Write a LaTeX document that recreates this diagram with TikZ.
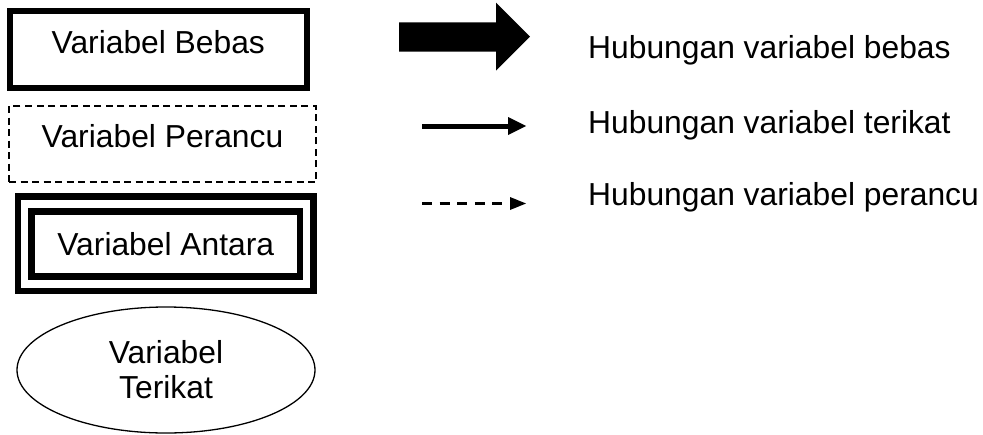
\documentclass[tikz,border=0pt]{standalone}
\usepackage{fontspec}
\setmainfont{Liberation Sans}
\usetikzlibrary{shapes.geometric,arrows.meta}
\begin{document}
\begin{tikzpicture}[x=1pt,y=-1pt,
  lbl/.style={font=\fontsize{31.8}{35}\selectfont, inner sep=0pt},
  boxbase/.style={lbl, draw, rectangle, text height=22pt},
  bebasbox/.style={boxbase, line width=6pt, minimum width=297.3pt, minimum height=76.7pt, text depth=15.4pt},
  perancubox/.style={boxbase, line width=1.3pt, dash pattern=on 7pt off 4.5pt, minimum width=307pt, minimum height=76pt, text depth=16pt},
  antaraouter/.style={draw, rectangle, line width=6.3pt, minimum width=295.3pt, minimum height=94.3pt, inner sep=0pt},
  antarainner/.style={boxbase, line width=6.6pt, minimum width=268.5pt, minimum height=65.4pt, text depth=0pt},
  terikatbox/.style={lbl, draw, ellipse, line width=1.3pt, minimum width=298pt, minimum height=126pt, align=center},
  legendtext/.style={lbl, anchor=base west},
  thinarrow/.style={line width=5pt, -{Triangle[length=18pt,width=18pt,line width=0pt]}},
  dasharrow/.style={line width=2.8pt, dash pattern=on 10pt off 7.6pt, -{Triangle[length=16pt,width=13pt,line width=0pt]}}
]
\useasboundingbox (0,0) rectangle (983,434);

% left column
\node[bebasbox] (bebas) at (158.3,49.7) {Variabel Bebas};
\node[perancubox] (perancu) at (162.5,144) {Variabel Perancu};
\node[antaraouter] (antaraout) at (165.8,243.6) {};
\node[antarainner] (antara) at (165.8,244) {Variabel Antara};
\node[terikatbox] (terikat) at (166,370) {Variabel\\Terikat};

% thick arrow
\coordinate (ta) at (399,36.7);
\fill (399,22.3) -- (496,22.3) -- (496,2.7) -- (530,36.7) -- (496,70.7) -- (496,51.7) -- (399,51.7) -- cycle;

% thin arrow
\coordinate (tbs) at (422,126);
\coordinate (tbe) at (526,126);
\draw[thinarrow] (tbs) -- (tbe);

% dashed arrow
\coordinate (tcs) at (422,203.5);
\coordinate (tce) at (526,203.5);
\draw[dasharrow] (tcs) -- (tce);

% legend texts
\node[legendtext] (lb) at (588,58.3) {Hubungan variabel bebas};
\node[legendtext] (lt) at (588,133) {Hubungan variabel terikat};
\node[legendtext] (lp) at (588,205) {Hubungan variabel perancu};
\end{tikzpicture}
\end{document}
